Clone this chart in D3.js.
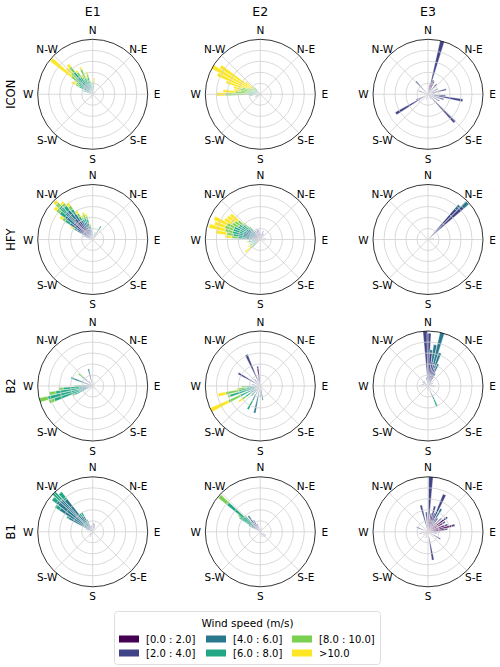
<!DOCTYPE html>
<html><head><meta charset="utf-8">
<script src="https://cdn.jsdelivr.net/npm/d3@7"></script>
<style>body{margin:0;background:#fff}svg{display:block;font-family:"DejaVu Sans",sans-serif}</style>
</head><body><svg id="c" width="500" height="667"></svg>
<script>
// ---- data: each row = [direction (deg), class0..class5 lengths] ----
const speedClasses = ["[0.0 : 2.0]","[2.0 : 4.0]","[4.0 : 6.0]","[6.0 : 8.0]","[8.0 : 10.0]",">10.0"];
const columns = ["E1","E2","E3"];
const rows = ["ICON","HFY","B2","B1"];
const dirLabels = ["N","N-E","E","S-E","S","S-W","W","N-W"];
const ringValues = [1,2,3,4];

const ICON_E1 = [
 [290,0,0.2,0.4,0.3,0.1,0],[300,0,0.3,0.5,0.6,0.4,0.4],[305,0,0.3,0.6,0.6,0.3,0.2],
 [310,0,0.3,0.6,0.8,0.8,2.4],[315,0,0.3,0.8,1.0,0.6,0.6],[320,0,0.4,1.0,1.2,0.6,0.3],
 [325,0,0.3,0.8,0.8,0.5,0.2],[330,0,0.3,0.6,0.6,0.3,0.2],[335,0,0.3,0.5,0.8,0.9,0.2],
 [340,0,0.3,0.5,0.5,0.3,0.2],[345,0,0.4,0.6,0.6,0.3,0.2],[350,0,0.3,0.4,0.3,0.2,0.1],
 [355,0,0.2,0.3,0.2,0.1,0],[5,0,0.2,0.3,0.4,0.3,0.3],[15,0,0.2,0.2,0.1,0,0],
 [60,0,0.1,0.2,0,0,0],[200,0.1,0.3,0,0,0,0]
];
const ICON_E2 = [
 [240,0.1,0.3,0,0,0,0],[250,0.1,0.4,0,0,0,0],[265,0,0.2,0.5,0.3,0,0],
 [270,0,0.2,0.4,0.6,2.0,0.8],[275,0,0.1,0.3,0.5,1.4,1.1],[280,0,0.2,0.3,0.5,0.8,0.6],
 [285,0,0.1,0.3,0.5,1.0,0.6],[290,0,0.1,0.2,0.4,1.0,1.6],[295,0,0.1,0.2,0.4,0.6,3.0],
 [300,0,0,0.1,0.3,0.6,4.0],[305,0,0,0.1,0.3,0.5,3.5],[310,0,0.1,0.2,0.3,0.3,0.8],
 [315,0,0.1,0.2,0.3,0.2,0.2],[320,0,0.1,0.2,0.3,0.2,0]
];
const ICON_E3 = [
 [10,0.6,0.3,0,0,0,0],[15,0.8,4.2,0,0,0,0],[20,1.2,0.2,0,0,0,0],[25,1.0,0.3,0,0,0,0],
 [30,0.3,0.3,0,0,0,0],[40,0.3,0.9,0,0,0,0],[60,0.2,0.8,0,0,0,0],[75,0.9,0.8,0,0,0,0],
 [85,0.3,0.3,0,0,0,0],[95,0.2,1.4,0,0,0,0],[100,0.2,3.0,0,0,0,0],[108,0.2,1.3,0,0,0,0],
 [120,0.2,1.0,0,0,0,0],[136,0.3,3.2,0,0,0,0],[150,0.1,0.4,0,0,0,0],[200,0.2,0.3,0,0,0,0],
 [239,0.2,3.2,0,0,0,0],[245,0.2,1.0,0,0,0,0],[290,0.2,0.7,0,0,0,0],[317,0.2,1.4,0,0,0,0]
];
const HFY_E1 = [
 [20,0.1,0.3,0.2,0.1,0,0],[32,0.1,0.4,0.4,0.5,0,0],[290,0.1,0.5,0.2,0.1,0,0],
 [300,0.1,1.0,0.5,0.3,0.2,0.2],[305,0.2,1.5,0.8,0.5,0.3,0.3],[310,0.2,2.0,1.0,0.6,0.4,0.3],
 [315,0.2,2.0,1.2,0.8,0.4,0.3],[320,0.2,2.2,1.0,0.5,0.3,0.2],[325,0.2,1.8,0.8,0.5,0.4,0.3],
 [330,0.2,1.2,0.6,0.4,0.3,0.3],[335,0.2,1.0,0.5,0.3,0.2,0.2],[340,0.1,1.0,0.6,0.4,0.3,0.2],
 [345,0.1,0.9,0.5,0.4,0.3,0.2],[350,0.1,0.5,0.3,0.3,0.2,0.1],[355,0.1,0.3,0.2,0.1,0,0]
];
const HFY_E2 = [
 [0,0.4,0.2,0,0,0,0],[10,0.3,0.2,0,0,0,0],[20,0.3,0.5,0,0,0,0],[30,0.2,0.4,0,0,0,0],
 [80,0.3,0.2,0,0,0,0],[110,0.2,0.2,0,0,0,0],
 [230,0.1,0.2,0.3,0.3,0.3,0.6],[240,0.1,0.2,0.3,0.2,0.2,0.3],[250,0.1,0.2,0.3,0.2,0.1,0.1],
 [260,0.1,0.3,0.4,0.3,0.1,0.1],[270,0.1,0.3,0.4,0.2,0.1,0.1],[275,0.1,0.4,0.8,0.8,0.5,0.6],
 [280,0.1,0.5,1.0,0.9,0.6,1.0],[285,0.1,0.5,1.0,1.0,0.7,1.5],[290,0.1,0.5,1.0,1.0,0.8,1.0],
 [295,0.1,0.5,1.0,1.0,0.7,1.3],[300,0.1,0.5,0.9,0.8,0.6,0.8],[305,0.1,0.5,0.9,0.8,0.5,0.8],
 [310,0.1,0.5,0.8,0.7,0.5,0.9],[315,0.1,0.4,0.6,0.5,0.3,0.2],[320,0.2,0.4,0.4,0.3,0.2,0],
 [330,0.3,0.4,0.2,0,0,0],[340,0.5,0.4,0.1,0,0,0],[350,0.6,0.3,0,0,0,0]
];
const HFY_E3 = [
 [43,0.1,3.6,0.5,0,0,0],[47,0.1,4.2,0.6,0,0,0],[80,0,0.2,0.3,0,0,0]
];
const B2_E1 = [
 [20,0.1,0.3,0,0,0,0],[150,0.1,0.2,0,0,0,0],[200,0.1,0.2,0,0,0,0],
 [245,0.1,0.2,0.5,1.0,0.2,0],[250,0.1,0.3,0.8,2.5,0.5,0],[255,0.1,0.3,0.8,3.0,0.8,0],
 [260,0.1,0.3,0.8,2.2,0.6,0],[265,0.1,0.3,0.8,1.5,0.4,0],[270,0.1,0.3,0.5,0.6,0.2,0],
 [275,0.1,0.3,0.3,0.2,0,0],[291,0.1,0.7,1.0,0.3,0,0],[311,0.1,0.4,0.5,0.3,0.4,0],
 [320,0.1,0.3,0.2,0,0,0],[346,0.1,1.0,0.5,0,0,0]
];
const B2_E2 = [
 [160,0.1,0.4,0,0,0,0],[170,0.2,0.8,0.3,0,0,0],[180,0.2,0.6,0.2,0,0,0],
 [192,0.1,0.6,1.8,0,0,0],[208,0.1,0.5,0.9,0.9,0,0],[222,0.1,0.3,0.5,0.3,0,0],
 [234,0.1,0.3,0.6,0.6,0.4,0.4],[244,0.1,0.3,0.6,1.0,1.2,1.8],[252,0.1,0.4,0.8,1.6,0.2,0],
 [258,0.1,0.3,0.6,1.0,1.2,0.7],[262,0.1,0.2,0.4,0.6,0.7,0.2],[268,0.1,0.2,0.3,0.6,0.5,0],
 [280,0.3,0.5,0,0,0,0],[300,0.3,2.0,0,0,0,0],[320,0.2,0.6,0,0,0,0],
 [336,0.3,2.8,0,0,0,0],[345,0.5,0.3,0,0,0,0],[352,1.6,0.2,0,0,0,0]
];
const B2_E3 = [
 [357,0.2,4.8,0,0,0,0],[1,0.2,4.6,0,0,0,0],[5,0.2,2.8,0.3,0,0,0],[10,0.2,2.0,1.6,0,0,0],
 [15,0.2,1.8,3.0,0,0,0],[20,0.2,1.5,1.5,0,0,0],[25,0.2,1.2,0.8,0,0,0],[30,0.2,0.8,0.3,0,0,0],
 [60,0.2,0.3,0,0,0,0],[90,0.4,0.3,0,0,0,0],[156,0.1,0.6,0.6,0.7,0,0],[170,0.1,0.3,0,0,0,0],
 [190,0.2,0.2,0,0,0,0],[270,0.2,0.6,0,0,0,0],[285,0.3,0.3,0,0,0,0],[305,0.3,0.3,0,0,0,0],
 [320,0.3,0.3,0,0,0,0],[350,0.2,0.6,0,0,0,0]
];
const B1_E1 = [
 [5,0.3,0.5,0,0,0,0],[15,0.2,0.5,0,0,0,0],[25,0.2,0.3,0,0,0,0],[210,0.2,0.3,0,0,0,0],
 [225,0.2,0.2,0,0,0,0],[290,0.1,0.3,0.3,0,0,0],[300,0.1,0.4,2.0,0.2,0,0],
 [305,0.1,0.5,3.0,0.5,0,0],[310,0.1,0.5,3.6,0.5,0,0],[315,0.1,0.5,3.5,0.9,0,0],
 [320,0.1,0.5,3.2,0.8,0,0],[325,0.1,0.6,1.0,0.3,0,0],[330,0.1,0.7,0.8,0.4,0,0],
 [335,0.1,0.6,0.4,0.1,0,0],[345,0.2,0.4,0,0,0,0]
];
const B1_E2 = [
 [20,0.2,0.2,0,0,0,0],[125,0.2,0.4,0,0,0,0],[140,0.2,0.4,0,0,0,0],[160,0.2,0.3,0,0,0,0],
 [300,0.1,0.3,0.5,0.3,0,0],[305,0.1,0.4,1.0,0.8,0,0],[308,0.1,0.3,0.6,1.2,0.3,0],
 [311,0.1,0.3,0.6,2.9,1.0,0],[315,0.1,0.4,0.8,0.6,0.1,0],[323,0.2,1.2,0.4,0,0,0],
 [330,0.2,0.8,0.2,0,0,0],[340,0.3,0.5,0,0,0,0]
];
const B1_E3 = [
 [3,0.3,4.7,0,0,0,0],[10,1.2,0.5,0,0,0,0],[15,1.5,0.9,0,0,0,0],[20,0.6,1.2,0,0,0,0],
 [24,0.5,3.2,0,0,0,0],[30,0.4,1.0,1.0,0,0,0],[35,0.8,0.7,0,0,0,0],[45,1.2,0.5,0,0,0,0],
 [53,1.8,0.4,0,0,0,0],[60,1.5,0.3,0,0,0,0],[70,1.6,0.3,0,0,0,0],[76,2.2,0.3,0,0,0,0],
 [82,1.5,0.3,0,0,0,0],[90,0.9,0.2,0,0,0,0],[100,0.5,0.3,0,0,0,0],[120,0.3,1.0,0,0,0,0],
 [170,0.2,2.4,0,0,0,0],[200,0.3,0.3,0,0,0,0],[240,0.3,0.2,0,0,0,0],[260,0.6,0.2,0,0,0,0],
 [292,0.3,0.8,0,0,0,0],[345,0.3,2.2,0,0,0,0],[355,0.3,1.5,0,0,0,0]
];

const panelData = [
 [ICON_E1, ICON_E2, ICON_E3],
 [HFY_E1, HFY_E2, HFY_E3],
 [B2_E1, B2_E2, B2_E3],
 [B1_E1, B1_E2, B1_E3]
];

// ---- layout ----
const svg = d3.select("#c");
const colX = [92.7, 260.3, 428];
const rowY = [94.3, 239.5, 386, 531.8];
const R = 55;
const binWidth = 4.6;

const color = d3.scaleOrdinal().domain(d3.range(6)).range(d3.range(6).map(i => d3.interpolateViridis(i/5)));
const rScale = d3.scaleLinear().domain([0,5]).range([0,R]);
const aScale = d3.scaleLinear().domain([0,360]).range([0,2*Math.PI]);
const arc = d3.arc();

columns.forEach((c,j)=>{
  svg.append("text").attr("x",colX[j]).attr("y",rowY[0]-83).attr("text-anchor","middle")
    .attr("dominant-baseline","central").attr("font-size",12.5).text(c);
});
rows.forEach((r,i)=>{
  svg.append("text").attr("transform",`translate(10.5,${rowY[i]}) rotate(-90)`).attr("text-anchor","middle")
    .attr("dominant-baseline","central").attr("font-size",11.5).text(r);
});

rows.forEach((rowName,i)=>{
  columns.forEach((colName,j)=>{
    const g = svg.append("g").attr("transform",`translate(${colX[j]},${rowY[i]})`);
    const data = panelData[i][j];
    // bars
    data.forEach(row=>{
      const dir = row[0];
      let acc = 0;
      for(let k=0;k<6;k++){
        const v = row[k+1];
        if(v<=0) continue;
        g.append("path").attr("d", arc({innerRadius:rScale(acc), outerRadius:rScale(acc+v),
            startAngle:aScale(dir-binWidth/2), endAngle:aScale(dir+binWidth/2)}))
          .attr("fill", color(k)).attr("stroke","#ffffff").attr("stroke-width",0.35);
        acc += v;
      }
    });
    // grid
    ringValues.forEach(v=>{
      g.append("circle").attr("r",rScale(v)).attr("fill","none").attr("stroke","#cfcfcf").attr("stroke-width",0.8);
    });
    d3.range(8).forEach(k=>{
      const a = aScale(k*45);
      g.append("line").attr("x1",0).attr("y1",0).attr("x2",R*Math.sin(a)).attr("y2",-R*Math.cos(a))
        .attr("stroke","#cfcfcf").attr("stroke-width",0.8);
    });
    g.append("circle").attr("r",R).attr("fill","none").attr("stroke","#000").attr("stroke-width",0.8);
    dirLabels.forEach((lab,k)=>{
      const a = aScale(k*45), d = 64.5;
      g.append("text").attr("x",d*Math.sin(a)).attr("y",-d*Math.cos(a)).attr("text-anchor","middle")
        .attr("dominant-baseline","central").attr("font-size",10.5).text(lab);
    });
  });
});

// ---- legend ----
const lg = svg.append("g");
lg.append("rect").attr("x",114.5).attr("y",611.5).attr("width",266).attr("height",53).attr("rx",3)
  .attr("fill","#fff").attr("stroke","#d6d6d6").attr("stroke-width",0.8);
lg.append("text").attr("x",247.5).attr("y",623).attr("text-anchor","middle").attr("dominant-baseline","central")
  .attr("font-size",10.5).text("Wind speed (m/s)");
const legX = [119, 206, 292];
const legY = [639, 653];
speedClasses.forEach((s,k)=>{
  const cx = legX[Math.floor(k/2)], cy = legY[k%2];
  lg.append("rect").attr("x",cx).attr("y",cy-3.5).attr("width",20).attr("height",7).attr("fill",color(k));
  lg.append("text").attr("x",cx+27).attr("y",cy).attr("dominant-baseline","central").attr("font-size",10).text(s);
});
</script></body></html>
